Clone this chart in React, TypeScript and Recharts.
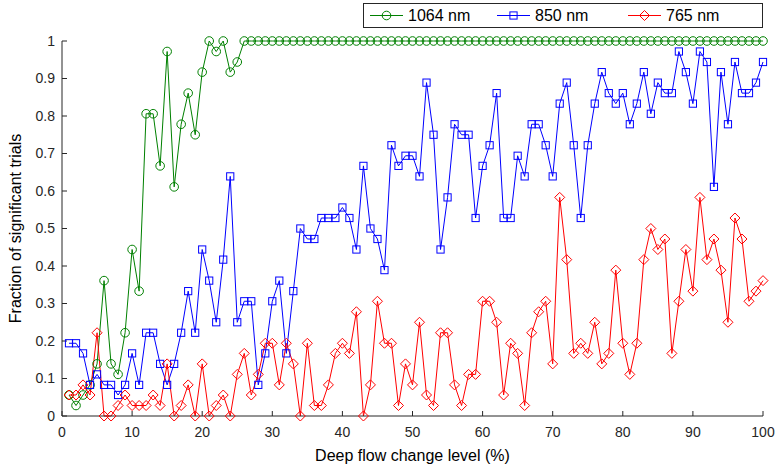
import React from 'react';
import {LineChart, Line, XAxis, YAxis} from 'recharts';

// deep flow change level (%)
const levels = Array.from({length: 100}, (_, i) => i + 1);

// fraction of significant trials per wavelength
const nm1064 = [
    0.056, 0.028, 0.056, 0.083, 0.139, 0.361, 0.139, 0.111, 0.222, 0.444,
    0.333, 0.806, 0.806, 0.667, 0.972, 0.611, 0.778, 0.861, 0.75, 0.917,
    1, 0.972, 1, 0.917, 0.944, 1, 1, 1, 1, 1,
    1, 1, 1, 1, 1, 1, 1, 1, 1, 1,
    1, 1, 1, 1, 1, 1, 1, 1, 1, 1,
    1, 1, 1, 1, 1, 1, 1, 1, 1, 1,
    1, 1, 1, 1, 1, 1, 1, 1, 1, 1,
    1, 1, 1, 1, 1, 1, 1, 1, 1, 1,
    1, 1, 1, 1, 1, 1, 1, 1, 1, 1,
    1, 1, 1, 1, 1, 1, 1, 1, 1, 1,
];

const nm850 = [
    0.194, 0.194, 0.167, 0.083, 0.111, 0.083, 0.083, 0.056, 0.083, 0.167,
    0.083, 0.222, 0.222, 0.139, 0.083, 0.139, 0.222, 0.333, 0.222, 0.444,
    0.361, 0.25, 0.417, 0.639, 0.25, 0.306, 0.306, 0.083, 0.167, 0.306,
    0.361, 0.167, 0.333, 0.5, 0.472, 0.472, 0.528, 0.528, 0.528, 0.556,
    0.528, 0.444, 0.667, 0.5, 0.472, 0.389, 0.722, 0.667, 0.694, 0.694,
    0.639, 0.889, 0.75, 0.444, 0.583, 0.778, 0.75, 0.75, 0.528, 0.667,
    0.722, 0.861, 0.528, 0.528, 0.694, 0.639, 0.778, 0.778, 0.722, 0.639,
    0.833, 0.889, 0.722, 0.528, 0.722, 0.833, 0.917, 0.861, 0.833, 0.861,
    0.778, 0.833, 0.917, 0.806, 0.889, 0.861, 0.861, 0.972, 0.917, 0.833,
    0.972, 0.944, 0.611, 0.917, 0.778, 0.944, 0.861, 0.861, 0.889, 0.944,
];

const nm765 = [
    0.056, 0.056, 0.083, 0.056, 0.222, 0, 0, 0.028, 0.056, 0.028,
    0.028, 0.028, 0.056, 0.028, 0.139, 0, 0.028, 0.083, 0, 0.139,
    0, 0.028, 0.056, 0, 0.111, 0.167, 0.056, 0.111, 0.194, 0.194,
    0.083, 0.194, 0.139, 0, 0.194, 0.028, 0.028, 0.083, 0.167, 0.194,
    0.167, 0.278, 0, 0.083, 0.306, 0.194, 0.194, 0.028, 0.139, 0.083,
    0.25, 0.056, 0.028, 0.222, 0.222, 0.083, 0.028, 0.111, 0.111, 0.306,
    0.306, 0.25, 0.056, 0.194, 0.167, 0.028, 0.222, 0.278, 0.306, 0.139,
    0.583, 0.417, 0.167, 0.194, 0.167, 0.25, 0.139, 0.167, 0.389, 0.194,
    0.111, 0.194, 0.417, 0.5, 0.444, 0.472, 0.167, 0.306, 0.444, 0.333,
    0.583, 0.417, 0.472, 0.389, 0.25, 0.528, 0.472, 0.306, 0.333, 0.361,
];

const xTicks = [0, 10, 20, 30, 40, 50, 60, 70, 80, 90, 100];
const yTicks = [0, 0.1, 0.2, 0.3, 0.4, 0.5, 0.6, 0.7, 0.8, 0.9, 1];

const series = [
    {key: 'nm1064', name: '1064 nm', color: '#008000', shape: 'circle'},
    {key: 'nm850', name: '850 nm', color: '#0000ff', shape: 'square'},
    {key: 'nm765', name: '765 nm', color: '#ff0000', shape: 'diamond'},
];

const data = levels.map((x, i) => ({x, nm1064: nm1064[i], nm850: nm850[i], nm765: nm765[i]}));

const axisColor = '#262626';
const font = '"Liberation Sans", Arial, Helvetica, sans-serif';

const Marker = ({shape, color, cx, cy}: {shape: string; color: string; cx: number; cy: number}) => {
    if (shape === 'circle') {
        return <circle cx={cx} cy={cy} r={4.3} fill="none" stroke={color} strokeWidth={1}/>;
    }
    if (shape === 'square') {
        return <rect x={cx - 3.6} y={cy - 3.6} width={7.2} height={7.2} fill="none" stroke={color} strokeWidth={1}/>;
    }
    const d = 5;
    return (
        <polygon
            points={`${cx},${cy - d} ${cx + d},${cy} ${cx},${cy + d} ${cx - d},${cy}`}
            fill="none"
            stroke={color}
            strokeWidth={1}
        />
    );
};

const makeDot = (shape: string, color: string) => (props: any) => {
    const {cx, cy, index} = props;
    if (cx == null || cy == null) return <g key={`d-${index}`}/>;
    return (
        <g key={`d-${shape}-${index}`}>
            <Marker shape={shape} color={color} cx={cx} cy={cy}/>
        </g>
    );
};

// tick lines only, no labels (top and right edges of the box)
const NoLabel = () => <g/>;

const LegendBox = () => (
    <div
        style={{
            position: 'absolute',
            left: 363,
            top: 3,
            width: 398,
            height: 23,
            border: `1px solid ${axisColor}`,
            background: '#fff',
            fontFamily: font,
            fontSize: 16,
            color: '#000',
        }}
    >
        {series.map((s, i) => (
            <div
                key={s.key}
                style={{
                    position: 'absolute',
                    left: [6, 133, 264][i],
                    top: 0,
                    height: 23,
                    display: 'flex',
                    alignItems: 'center',
                    whiteSpace: 'nowrap',
                }}
            >
                <svg width={34} height={23}>
                    <line x1={0} y1={11.5} x2={33} y2={11.5} stroke={s.color} strokeWidth={1}/>
                    <Marker shape={s.shape} color={s.color} cx={16.5} cy={11.5}/>
                </svg>
                <span style={{marginLeft: 4}}>{s.name}</span>
            </div>
        ))}
    </div>
);

const App = () => {
    return (
        <div style={{position: 'absolute', left: 0, top: 0, width: 780, height: 471, background: '#fff', fontFamily: font}}>
            <LineChart width={780} height={471} data={data} margin={{top: 41, right: 17, bottom: 0, left: 0}}>
                <XAxis
                    dataKey="x"
                    type="number"
                    domain={[0, 100]}
                    ticks={xTicks}
                    interval={0}
                    height={55}
                    tickSize={-5}
                    tickMargin={16}
                    stroke={axisColor}
                    tick={{fill: axisColor, fontSize: 14}}
                    label={{
                        value: 'Deep flow change level (%)',
                        position: 'insideBottom',
                        offset: 10,
                        fill: '#000',
                        fontSize: 16,
                    }}
                />
                <XAxis
                    xAxisId="top"
                    orientation="top"
                    dataKey="x"
                    type="number"
                    domain={[0, 100]}
                    ticks={xTicks}
                    interval={0}
                    height={0}
                    tickSize={-5}
                    tick={NoLabel}
                    stroke={axisColor}
                />
                <YAxis
                    type="number"
                    domain={[0, 1]}
                    ticks={yTicks}
                    interval={0}
                    width={62}
                    tickSize={-5}
                    tickMargin={12}
                    stroke={axisColor}
                    tick={{fill: axisColor, fontSize: 14}}
                    label={{
                        content: () => (
                            <text
                                x={17}
                                y={228.5}
                                transform="rotate(-90, 17, 228.5)"
                                textAnchor="middle"
                                dominantBaseline="middle"
                                fontSize={16}
                                fill="#000"
                            >
                                Fraction of significant trials
                            </text>
                        ),
                    }}
                />
                <YAxis
                    yAxisId="right"
                    orientation="right"
                    type="number"
                    domain={[0, 1]}
                    ticks={yTicks}
                    interval={0}
                    width={0}
                    tickSize={-5}
                    tick={NoLabel}
                    stroke={axisColor}
                />
                {series.map((s) => (
                    <Line
                        key={s.key}
                        dataKey={s.key}
                        name={s.name}
                        type="linear"
                        stroke={s.color}
                        strokeWidth={1}
                        dot={makeDot(s.shape, s.color)}
                        activeDot={false}
                        isAnimationActive={false}
                    />
                ))}
            </LineChart>
            <LegendBox/>
        </div>
    );
};

export default App;
